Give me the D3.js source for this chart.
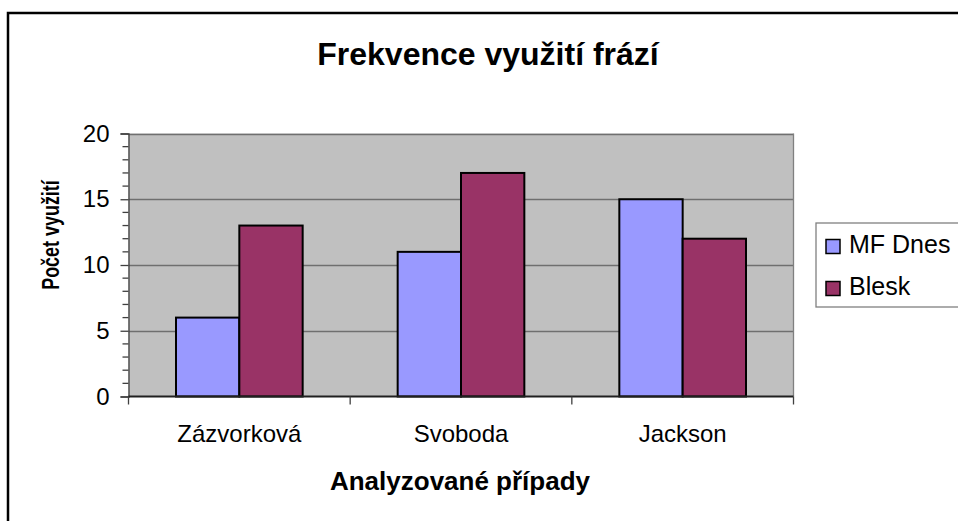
<!DOCTYPE html>
<html>
<head>
<meta charset="utf-8">
<script src="https://cdn.jsdelivr.net/npm/d3@7"></script>
<style>
  body { margin: 0; background: #fff; }
  svg { display: block; font-family: "Liberation Sans", Arial, sans-serif; }
</style>
</head>
<body>
<svg id="chart" width="958" height="521"></svg>
<script>
// ---- data ----
const categories = ["Zázvorková", "Svoboda", "Jackson"];
const seriesNames = ["MF Dnes", "Blesk"];
const mfDnes = [6, 11, 15];
const blesk = [13, 17, 12];
const yTicks = [0, 5, 10, 15, 20];
const seriesColors = ["#9999FF", "#993366"];

const svg = d3.select("#chart");
const width = +svg.attr("width");
const height = +svg.attr("height");

// outer frame (runs off the right and bottom edges)
svg.append("rect")
    .attr("x", 8).attr("y", 13)
    .attr("width", width + 10).attr("height", height + 10)
    .attr("fill", "#fff")
    .attr("stroke", "#000")
    .attr("stroke-width", 2.5);

/** plot area */
const plot = { left: 128.5, top: 133.5, right: 793.5, bottom: 396.5 };

const x = d3.scaleBand()
    .domain(categories)
    .range([plot.left, plot.right]);

// Excel style gap width 150%
const barW = x.bandwidth() / 3.5;
const x1 = d3.scaleBand()
    .domain(seriesNames)
    .range([x.bandwidth() * 0.75 / 3.5, x.bandwidth() * 0.75 / 3.5 + barW * 2]);

const y = d3.scaleLinear()
    .domain([0, 20])
    .range([plot.bottom, plot.top]);

svg.append("rect")
    .attr("x", plot.left).attr("y", plot.top)
    .attr("width", plot.right - plot.left)
    .attr("height", plot.bottom - plot.top)
    .attr("fill", "#C0C0C0");

// gridlines
svg.append("g")
    .selectAll("line")
    .data(yTicks.filter((d) => d > 0))
    .join("line")
    .attr("x1", plot.left).attr("x2", plot.right)
    .attr("y1", (d) => Math.round(y(d)) + 0.5)
    .attr("y2", (d) => Math.round(y(d)) + 0.5)
    .attr("stroke", "#6f6f6f")
    .attr("stroke-width", 1.3);

// right edge of plot area
svg.append("line")
    .attr("x1", plot.right).attr("x2", plot.right)
    .attr("y1", plot.top).attr("y2", plot.bottom)
    .attr("stroke", "#808080")
    .attr("stroke-width", 1.3);

// bars
const rows = categories.map((c, i) => ({ cat: c, vals: [mfDnes[i], blesk[i]] }));
svg.append("g")
    .selectAll("g")
    .data(rows)
    .join("g")
    .attr("transform", (d) => `translate(${x(d.cat)},0)`)
    .selectAll("rect")
    .data((d) => d.vals.map((v, j) => ({ name: seriesNames[j], value: v, j: j })))
    .join("rect")
    .attr("x", (d) => x1(d.name))
    .attr("y", (d) => y(d.value))
    .attr("width", x1.bandwidth())
    .attr("height", (d) => y(0) - y(d.value))
    .attr("fill", (d) => seriesColors[d.j])
    .attr("stroke", "#000")
    .attr("stroke-width", 2);

// y axis with minor ticks
const yAxis = d3.axisLeft(y).tickValues(yTicks).tickSize(8).tickPadding(11);
const gy = svg.append("g")
    .attr("transform", `translate(${plot.left},0)`)
    .call(yAxis);
gy.select(".domain").attr("stroke", "#404040").attr("stroke-width", 1.3);
gy.selectAll(".tick line").attr("stroke", "#404040").attr("stroke-width", 1.3);
gy.selectAll(".tick text")
    .attr("font-size", 24)
    .attr("font-family", "Liberation Sans, Arial, sans-serif")
    .attr("fill", "#000");
gy.append("g")
    .selectAll("line")
    .data(d3.range(0, 21).filter((d) => d % 5 !== 0))
    .join("line")
    .attr("x1", -6).attr("x2", 0)
    .attr("y1", (d) => y(d)).attr("y2", (d) => y(d))
    .attr("stroke", "#404040")
    .attr("stroke-width", 1.3);

// x axis
const gx = svg.append("g")
    .attr("transform", `translate(0,${plot.bottom})`);
gx.append("line")
    .attr("x1", plot.left).attr("x2", plot.right)
    .attr("stroke", "#202020")
    .attr("stroke-width", 2);
gx.selectAll(".sep")
    .data(categories.concat(["end"]))
    .join("line")
    .attr("class", "sep")
    .attr("x1", (d, i) => i < categories.length ? x(d) : plot.right)
    .attr("x2", (d, i) => i < categories.length ? x(d) : plot.right)
    .attr("y1", 0).attr("y2", 8)
    .attr("stroke", "#404040")
    .attr("stroke-width", 1.3);
gx.selectAll("text")
    .data(categories)
    .join("text")
    .attr("x", (d) => x(d) + x.bandwidth() / 2)
    .attr("y", 45)
    .attr("text-anchor", "middle")
    .attr("font-size", 24)
    .text((d) => d);

// titles
svg.append("text")
    .attr("x", 488).attr("y", 65)
    .attr("text-anchor", "middle")
    .attr("font-size", 32)
    .attr("font-weight", "bold")
    .text("Frekvence využití frází");

svg.append("text")
    .attr("x", 460).attr("y", 490)
    .attr("text-anchor", "middle")
    .attr("font-size", 26)
    .attr("font-weight", "bold")
    .text("Analyzované případy");

// rotated axis title, slightly condensed along its length
svg.append("text")
    .attr("transform", "translate(59,235) rotate(-90) scale(0.78,1)")
    .attr("text-anchor", "middle")
    .attr("font-size", 23)
    .attr("font-weight", "bold")
    .text("Počet využití");

// legend
const legend = svg.append("g").attr("transform", "translate(816,223)");
legend.append("rect")
    .attr("x", 0).attr("y", 0)
    .attr("width", 160).attr("height", 84)
    .attr("fill", "#fff")
    .attr("stroke", "#808080")
    .attr("stroke-width", 1.3);
const items = legend.selectAll("g.item")
    .data(seriesNames)
    .join("g")
    .attr("class", "item")
    .attr("transform", (d, i) => `translate(0,${30 + i * 42})`);
items.append("rect")
    .attr("x", 10).attr("y", -13.5)
    .attr("width", 14).attr("height", 14)
    .attr("fill", (d, i) => seriesColors[i])
    .attr("stroke", "#000")
    .attr("stroke-width", 1.5);
items.append("text")
    .attr("x", 33).attr("y", 0)
    .attr("font-size", 25)
    .text((d) => d);
</script>
</body>
</html>
